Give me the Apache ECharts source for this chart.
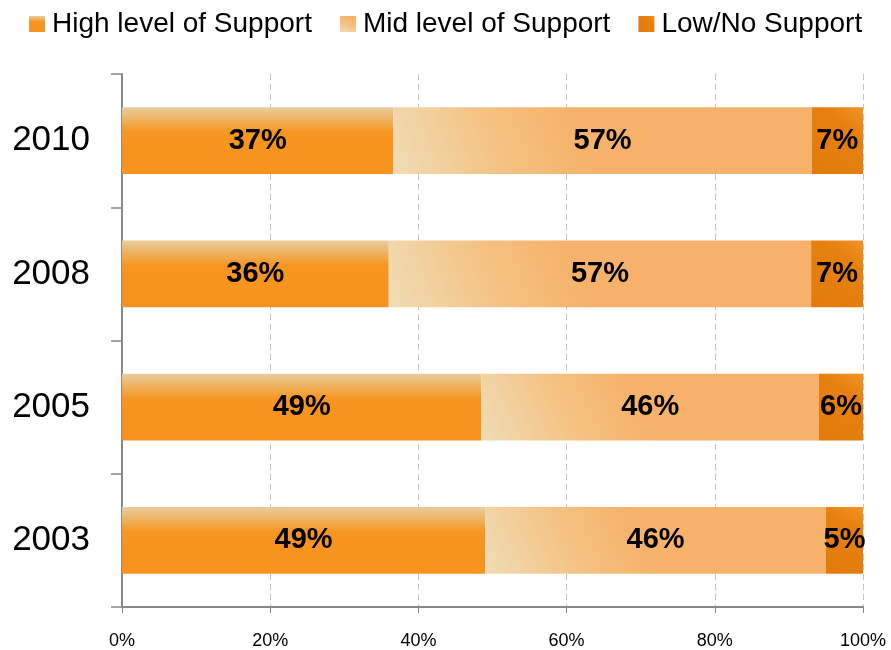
<!DOCTYPE html>
<html>
<head>
<meta charset="utf-8">
<script src="https://cdn.jsdelivr.net/npm/echarts@6/dist/echarts.min.js"></script>
<style>
  html, body { margin: 0; padding: 0; background: #fff; }
  #chart { width: 891px; height: 650px; }
</style>
</head>
<body>
<div id="chart"></div>
<script>
// Survey years, bottom to top
const years = ['2003', '2005', '2008', '2010'];
// Reported shares (%) per support level
const highSupport = [49, 49, 36, 37];
const midSupport = [46, 46, 57, 57];
const lowSupport = [5, 6, 7, 7];
const tickLabels = ['0%', '20%', '40%', '60%', '80%', '100%'];

const FONT = '"Liberation Sans", Arial, sans-serif';

// Each bar fills the full width: segments are scaled by the row total
const rowTotals = years.map((_, i) => highSupport[i] + midSupport[i] + lowSupport[i]);
const share = (arr) => arr.map((v, i) => ({ value: v / rowTotals[i] * 100, raw: v }));

const highColor = new echarts.graphic.LinearGradient(0, 0, 0, 1, [
  { offset: 0, color: '#e8cd9c' },
  { offset: 0.38, color: '#f6951f' },
  { offset: 1, color: '#f7931e' }
]);
const midColor = new echarts.graphic.LinearGradient(0, 1, 0.42, 0, [
  { offset: 0, color: '#f0ddb6' },
  { offset: 0.55, color: '#f4c283' },
  { offset: 1, color: '#f6b26a' }
]);
const lowColor = new echarts.graphic.LinearGradient(0, 1, 1, 0, [
  { offset: 0, color: '#e27b0c' },
  { offset: 0.7, color: '#e6800f' },
  { offset: 1, color: '#f39424' }
]);

const labelCfg = {
  show: true,
  position: 'inside',
  color: '#000',
  fontFamily: FONT,
  fontWeight: 'bold',
  fontSize: 29,
  formatter: (p) => p.data.raw + '%'
};

function barSeries(name, arr, color) {
  return {
    name: name,
    type: 'bar',
    stack: 'support',
    barWidth: '50%',
    data: share(arr),
    itemStyle: { color: color },
    label: labelCfg,
    emphasis: { disabled: true }
  };
}

const chart = echarts.init(document.getElementById('chart'), null, { renderer: 'canvas' });
chart.setOption({
  animation: false,
  legend: {
    left: 24,
    top: 5,
    itemWidth: 16,
    itemHeight: 16,
    itemGap: 28,
    icon: 'rect',
    textStyle: { fontFamily: FONT, fontSize: 28, color: '#000', padding: [0, 0, 0, 2] },
    data: ['High level of Support', 'Mid level of Support', 'Low/No Support']
  },
  grid: { left: 122, right: 28, top: 74, bottom: 43, containLabel: false },
  xAxis: {
    type: 'value',
    min: 0,
    max: 100,
    interval: 20,
    axisLine: { show: true, lineStyle: { color: '#888', width: 2 } },
    axisTick: { show: true, length: 6, lineStyle: { color: '#888', width: 1 } },
    axisLabel: {
      margin: 25,
      fontFamily: FONT,
      fontSize: 18,
      color: '#000',
      formatter: (v) => tickLabels[Math.round(v / 20)]
    },
    splitLine: { show: true, lineStyle: { color: '#c4c4c4', type: [6, 4], width: 1 } }
  },
  yAxis: {
    type: 'category',
    data: years,
    axisLine: { show: true, lineStyle: { color: '#888', width: 2 } },
    axisTick: { show: true, length: 11, lineStyle: { color: '#888', width: 1.5 } },
    axisLabel: { margin: 32, fontFamily: FONT, fontSize: 35, color: '#000' },
    splitLine: { show: false }
  },
  series: [
    barSeries('High level of Support', highSupport, highColor),
    barSeries('Mid level of Support', midSupport, midColor),
    barSeries('Low/No Support', lowSupport, lowColor)
  ]
});
</script>
</body>
</html>
